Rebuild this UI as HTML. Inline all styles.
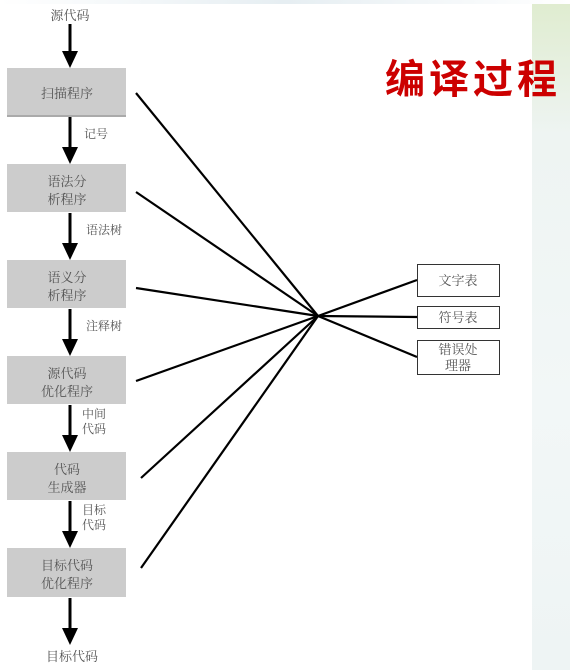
<!DOCTYPE html><html><head><meta charset="utf-8"><style>
body{margin:0;width:570px;height:670px;overflow:hidden;background:#fff;font-family:"Liberation Serif","Noto Serif CJK SC",serif;}
.bg{position:absolute;left:532px;top:0;width:38px;height:670px;background:linear-gradient(180deg,#dfeccf,#eef4f2 20%,#f2f7f7 60%,#eef4f4);}
.top{position:absolute;left:0;top:0;width:570px;height:4px;background:linear-gradient(90deg,#fff,#e6eef2,#fff);}
</style></head><body>
<div class="bg"></div><div class="top"></div>
<svg width="570" height="670" style="position:absolute;left:0;top:0" font-family="Liberation Serif, Noto Serif CJK SC, serif">
<g fill="#ccc">
<rect x="7" y="68" width="119" height="47"/>
<rect x="7" y="164" width="119" height="48"/>
<rect x="7" y="260" width="119" height="48"/>
<rect x="7" y="356" width="119" height="48"/>
<rect x="7" y="452" width="119" height="48"/>
<rect x="7" y="548" width="119" height="49"/>
</g>
<line x1="7" y1="116" x2="126" y2="116" stroke="#555" stroke-width="1"/>
<g stroke="#000" stroke-width="3">
<line x1="70" y1="24" x2="70" y2="52"/><line x1="70" y1="117" x2="70" y2="148"/>
<line x1="70" y1="213" x2="70" y2="244"/><line x1="70" y1="309" x2="70" y2="340"/>
<line x1="70" y1="405" x2="70" y2="436"/><line x1="70" y1="501" x2="70" y2="532"/>
<line x1="70" y1="598" x2="70" y2="629"/>
</g>
<g fill="#000">
<polygon points="62,51 78,51 70,68"/><polygon points="62,147 78,147 70,164"/>
<polygon points="62,243 78,243 70,260"/><polygon points="62,339 78,339 70,356"/>
<polygon points="62,435 78,435 70,452"/><polygon points="62,531 78,531 70,548"/>
<polygon points="62,628 78,628 70,645"/>
</g>
<g stroke="#000" stroke-width="2.2">
<line x1="136" y1="93" x2="318" y2="316"/><line x1="136" y1="192" x2="318" y2="316"/>
<line x1="136" y1="288" x2="318" y2="316"/><line x1="136" y1="381" x2="318" y2="316"/>
<line x1="141" y1="478" x2="318" y2="316"/><line x1="141" y1="568" x2="318" y2="316"/>
<line x1="318" y1="316" x2="417" y2="280"/><line x1="318" y1="316" x2="417" y2="317"/>
<line x1="318" y1="316" x2="417" y2="357"/>
</g>
<g fill="#fff" stroke="#333" stroke-width="1">
<rect x="417.5" y="264.5" width="82" height="32"/>
<rect x="417.5" y="306.5" width="82" height="22"/>
<rect x="417.5" y="340.5" width="82" height="34"/>
</g>
<g fill="#555" font-size="13" text-anchor="middle">
<text x="70" y="20">源代码</text>
<text x="67" y="98">扫描程序</text>
<text x="67" y="186">语法分</text><text x="67" y="204">析程序</text>
<text x="67" y="282">语义分</text><text x="67" y="300">析程序</text>
<text x="67" y="378">源代码</text><text x="67" y="396">优化程序</text>
<text x="67" y="474">代码</text><text x="67" y="492">生成器</text>
<text x="67" y="570">目标代码</text><text x="67" y="588">优化程序</text>
<text x="72" y="661">目标代码</text>
<text x="458" y="285">文字表</text>
<text x="458" y="322">符号表</text>
<text x="458" y="354">错误处</text><text x="458" y="370">理器</text>
</g>
<g fill="#555" font-size="12">
<text x="84" y="138">记号</text>
<text x="86" y="234">语法树</text>
<text x="86" y="330">注释树</text>
<text x="82" y="418">中间</text><text x="82" y="433">代码</text>
<text x="82" y="514">目标</text><text x="82" y="529">代码</text>
</g>
<text x="385" y="93" fill="#cc0000" font-size="40" font-weight="bold" font-family="Noto Sans CJK SC, sans-serif" letter-spacing="4">编译过程</text>
</svg>
</body></html>
